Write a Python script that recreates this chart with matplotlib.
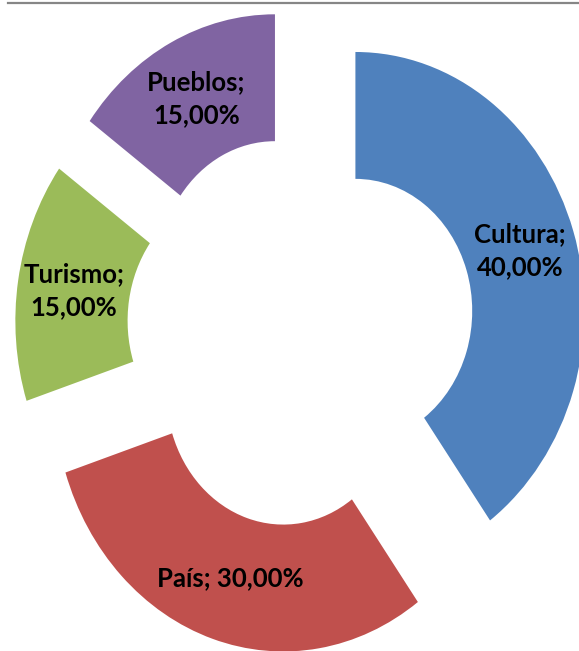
import matplotlib
matplotlib.use("Agg")
import matplotlib.pyplot as plt
from matplotlib.lines import Line2D

# Data (shares in %).
categories = ["Cultura", "País", "Turismo", "Pueblos"]
shares = [40, 30, 15, 15]
label_breaks = ["\n", " ", "\n", "\n"]
colors = ["#4F81BD", "#C0504D", "#9BBB59", "#8064A2"]

fig = plt.figure(figsize=(5.79, 6.51), dpi=100)
ax = fig.add_axes([0, 0, 1, 1])

# Exploded doughnut, clockwise from 12 o'clock like Excel.
wedges, texts, autotexts = ax.pie(
    shares,
    colors=colors,
    startangle=90,
    counterclock=False,
    explode=[0.25] * len(shares),
    pctdistance=0.755,
    autopct="%1.2f%%",
    wedgeprops=dict(width=0.49, linewidth=0),
)

for t, name, brk, val in zip(autotexts, categories, label_breaks, shares):
    t.set_text(f"{name};{brk}{val:.2f}%".replace(".", ","))
    t.set_fontfamily(["Lato", "DejaVu Sans"])
    t.set_fontweight("bold")
    t.set_fontsize(18.5)
    t.set_color("black")
    t.set_linespacing(1.45)
    t.set_horizontalalignment("center")
    t.set_verticalalignment("center")

# The original picture is stretched vertically and cropped on the right.
ax.set_aspect("auto")
ax.set_xlim(-1.314, 1.214)
ax.set_ylim(-1.236, 1.278)
ax.axis("off")

# Thin grey rule along the top edge.
fig.add_artist(Line2D([8 / 579, 1], [1 - 2.5 / 651, 1 - 2.5 / 651],
                      transform=fig.transFigure, color="#868686", linewidth=1.6))

fig.savefig("out.png", dpi=100)
